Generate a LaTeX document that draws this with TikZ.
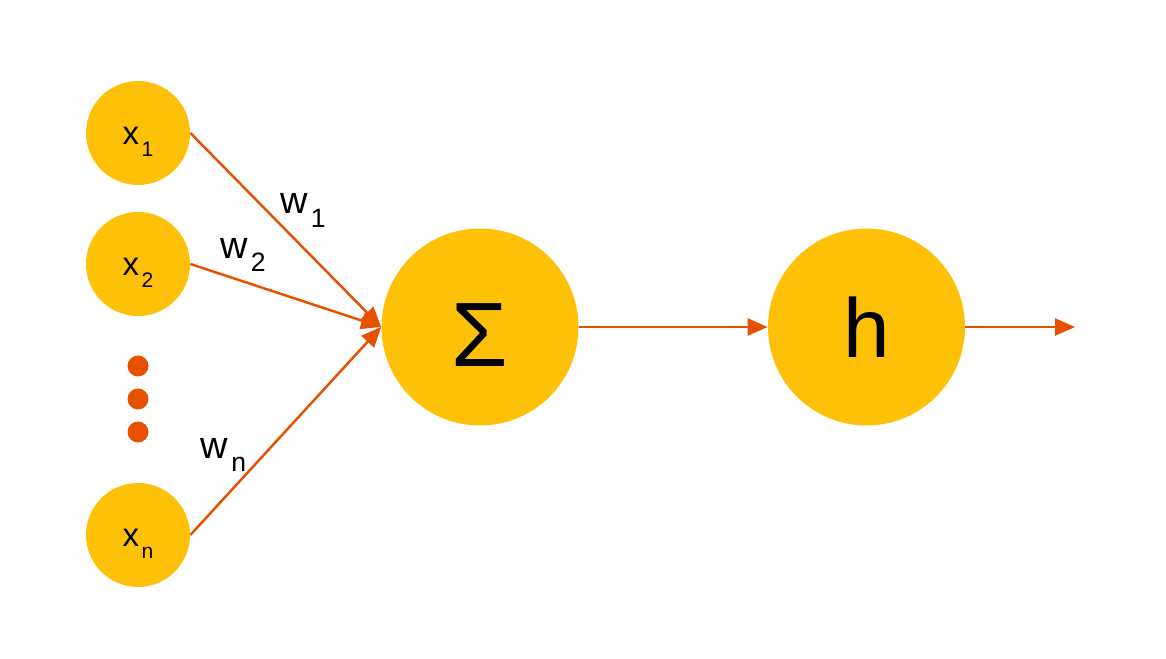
\documentclass[tikz,border=0pt]{standalone}
\usepackage{fontspec}
\setmainfont{Liberation Sans}
\usepackage{graphicx}
\usetikzlibrary{arrows.meta}
\definecolor{amber}{HTML}{FFC107}
\definecolor{burnt}{HTML}{E65100}
\newcommand{\idx}[2][0.64]{\kern0.08em\raisebox{-0.36em}{\scalebox{#1}{#2}}}
\begin{document}
\begin{tikzpicture}[->, >={Triangle[length=0.4cm,width=0.34cm]}]
\tikzstyle{input} = [circle, fill=amber, minimum size=2.08cm, inner sep=0pt, font=\fontsize{18.7}{20}\selectfont, text height=13.6pt, text depth=0pt]
\tikzstyle{unit} = [circle, fill=amber, minimum size=3.94cm, inner sep=0pt]
\tikzstyle{dot} = [circle, fill=burnt, minimum size=0.42cm, inner sep=0pt]
\tikzstyle{edge} = [draw=burnt, line width=1.4pt]
\tikzstyle{weight} = [inner sep=0pt, font=\fontsize{21.6}{24}\selectfont]

\useasboundingbox (0,0) rectangle (23.32,13.16);

\node[input] (x1) at (2.76,10.5) {x\idx{1}};
\node[input] (x2) at (2.76,7.88) {x\idx{2}};
\node[input] (xn) at (2.76,2.46) {x\idx{n}};
\node[dot] (d1) at (2.76,5.84) {};
\node[dot] (d2) at (2.76,5.18) {};
\node[dot] (d3) at (2.76,4.52) {};
\node[unit, font=\fontsize{52}{56}\selectfont, text height=45.5pt, text depth=0pt] (S) at (9.6,6.62) {Σ};
\node[unit, font=\fontsize{47.6}{52}\selectfont] (h) at (17.33,6.62) {h};
\coordinate (out) at (21.5,6.62);

\node[weight] (w1) at (6.06,8.95) {w\idx[0.7]{1}};
\node[weight] (w2) at (4.86,8.06) {w\idx[0.7]{2}};
\node[weight] (wn) at (4.47,4.06) {w\idx[0.7]{n}};

\draw[edge] (x1.east) -- (S.west);
\draw[edge] (x2.east) -- (S.west);
\draw[edge] (xn.east) -- (S.west);
\draw[edge] (S) -- (h);
\draw[edge] (h) -- (out);
\end{tikzpicture}
\end{document}
